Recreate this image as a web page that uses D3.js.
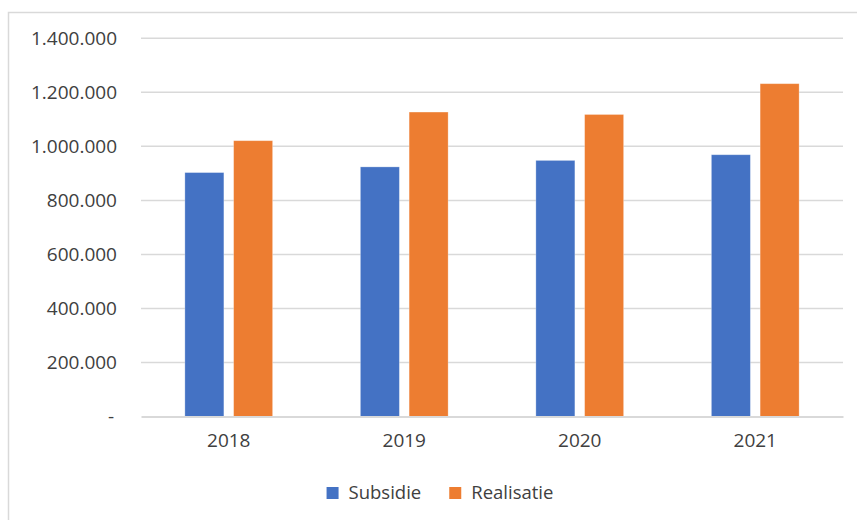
<!DOCTYPE html>
<html lang="nl">
<head>
    <meta charset="UTF-8">
    <title>Subsidie en realisatie</title>
    <script src="https://d3js.org/d3.v7.min.js"></script>
    <style>
        body {
            margin: 0;
            background: #ffffff;
            font-family: "Open Sans", sans-serif;
        }
        #chart {
            width: 857px;
            height: 520px;
        }
        .tick text {
            fill: #404040;
        }
    </style>
</head>
<body>
<div id="chart"></div>
<script>
    const years = ["2018", "2019", "2020", "2021"];
    const seriesNames = ["Subsidie", "Realisatie"];
    const subsidie = [903000, 924000, 948000, 969000];
    const realisatie = [1021000, 1127000, 1118000, 1232000];
    const yTicks = [0, 200000, 400000, 600000, 800000, 1000000, 1200000, 1400000];
    const colors = ["#4472C4", "#ED7D31"];

    const data = years.map((yr, i) => ({year: yr, values: [subsidie[i], realisatie[i]]}));

    const width = 857, height = 520;
    const margin = {top: 38.3, right: 14, bottom: 103.5, left: 141};

    const svg = d3.select("#chart")
        .append("svg")
        .attr("width", width)
        .attr("height", height);

    // chart area border (only top and left visible in the crop)
    svg.append("path")
        .attr("d", "M8.5,520 V12.5 H857")
        .attr("fill", "none")
        .attr("stroke", "#d9d9d9")
        .attr("stroke-width", 1.5);

    const x0 = d3.scaleBand()
        .domain(years)
        .range([margin.left, width - margin.right])
        .paddingInner(0.5)
        .paddingOuter(0.25);

    const x1 = d3.scaleBand()
        .domain(seriesNames)
        .range([0, x0.bandwidth()])
        .paddingInner(0.2);

    const y = d3.scaleLinear()
        .domain([0, 1400000])
        .range([height - margin.bottom, margin.top]);

    const fmt = d3.formatLocale({decimal: ",", thousands: ".", grouping: [3], currency: ["€", ""]}).format(",.0f");

    // gridlines
    svg.append("g")
        .selectAll("line")
        .data(yTicks.filter(d => d > 0))
        .join("line")
        .attr("x1", margin.left)
        .attr("x2", width - margin.right)
        .attr("y1", d => y(d))
        .attr("y2", d => y(d))
        .attr("stroke", "#d9d9d9")
        .attr("stroke-width", 1.5);

    // y axis labels
    const yAxis = svg.append("g")
        .attr("transform", `translate(${margin.left},0)`)
        .call(d3.axisLeft(y).tickValues(yTicks).tickSize(0).tickPadding(24)
            .tickFormat(d => d === 0 ? "-" : fmt(d)));
    yAxis.select(".domain").remove();
    yAxis.selectAll("text")
        .style("font-family", "'Open Sans', sans-serif")
        .style("font-size", "19px")
        .attr("dx", d => d === 0 ? "-3px" : null);

    // bars
    svg.append("g")
        .selectAll("g")
        .data(data)
        .join("g")
        .attr("transform", d => `translate(${x0(d.year)},0)`)
        .selectAll("rect")
        .data(d => d.values.map((v, i) => ({name: seriesNames[i], value: v, idx: i})))
        .join("rect")
        .attr("x", d => x1(d.name))
        .attr("y", d => y(d.value))
        .attr("width", x1.bandwidth())
        .attr("height", d => y(0) - y(d.value))
        .attr("fill", d => colors[d.idx])
        .attr("stroke", "#ffffff")
        .attr("stroke-opacity", 0.35)
        .attr("stroke-width", 0.8);

    // x axis
    const xAxis = svg.append("g")
        .attr("transform", `translate(0,${y(0)})`)
        .call(d3.axisBottom(x0).tickSize(0).tickPadding(17));
    xAxis.select(".domain")
        .attr("stroke", "#d9d9d9")
        .attr("stroke-width", 2);
    xAxis.selectAll("text")
        .style("font-family", "'Open Sans', sans-serif")
        .style("font-size", "19px");

    // legend
    const legend = svg.append("g");
    const items = legend.selectAll("g")
        .data(seriesNames)
        .join("g");
    items.append("rect")
        .attr("width", 12)
        .attr("height", 12)
        .attr("y", -6)
        .attr("fill", (d, i) => colors[i]);
    items.append("text")
        .attr("x", 22)
        .attr("dy", "0.35em")
        .attr("fill", "#404040")
        .style("font-size", "18.5px")
        .text(d => d);

    let offset = 0;
    items.each(function () {
        d3.select(this).attr("transform", `translate(${offset},0)`);
        offset += this.getBBox().width + 28;
    });
    const legendWidth = offset - 28;
    legend.attr("transform", `translate(${440 - legendWidth / 2},493)`);
</script>
</body>
</html>
